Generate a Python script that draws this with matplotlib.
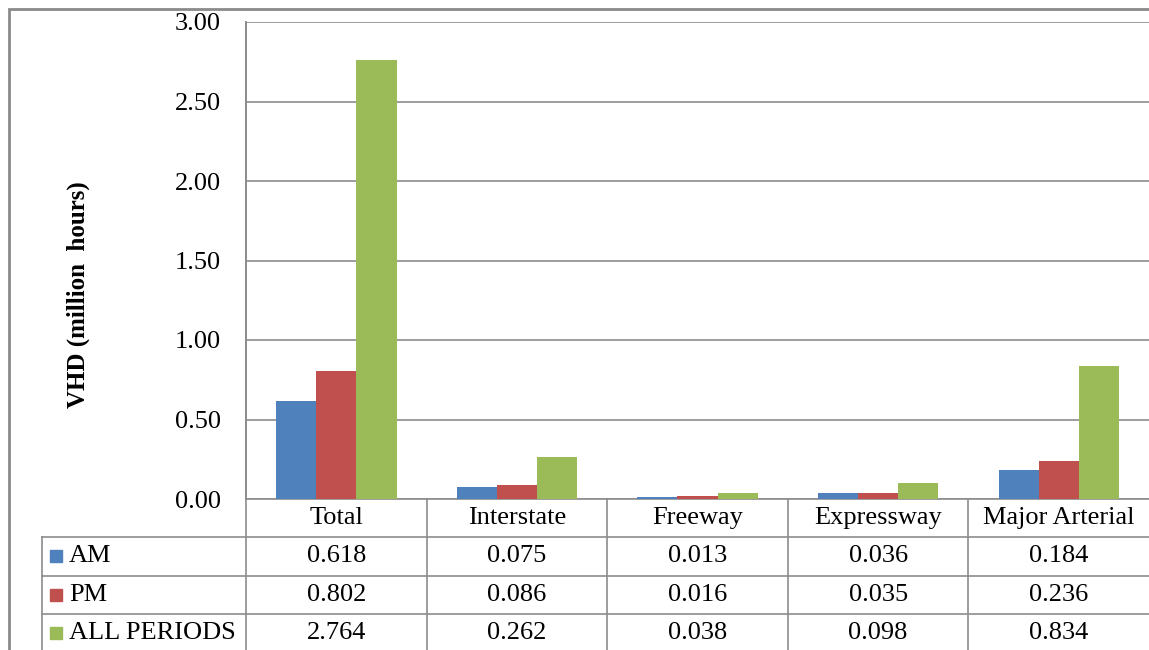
import matplotlib
matplotlib.use("Agg")
import matplotlib.pyplot as plt
import matplotlib.transforms as mtransforms
from matplotlib.lines import Line2D
from matplotlib.patches import Rectangle
import numpy as np

categories = ["Total", "Interstate", "Freeway", "Expressway", "Major Arterial"]
series_names = ["AM", "PM", "ALL PERIODS"]
am = [0.618, 0.075, 0.013, 0.036, 0.184]
pm = [0.802, 0.086, 0.016, 0.035, 0.236]
all_periods = [2.764, 0.262, 0.038, 0.098, 0.834]
colors = ["#4F81BD", "#C0504D", "#9BBB59"]
yticks = [0.0, 0.5, 1.0, 1.5, 2.0, 2.5, 3.0]

plt.rcParams["font.family"] = ["Liberation Serif", "DejaVu Serif"]
FS = 19

W, H = 1149, 650
fig = plt.figure(figsize=(W / 100, H / 100), dpi=100)
ax = fig.add_axes([246 / W, 1 - 499 / H, (1149 - 246) / W, (499 - 22) / H])

grid_col = "#8C8C8C"
series = [am, pm, all_periods]
x = np.arange(len(categories))
bw = 1 / 4.5
for i, (vals, col) in enumerate(zip(series, colors)):
    ax.bar(x + 0.5 + (i - 1) * bw, vals, width=bw, color=col, zorder=3)

ax.set_xlim(0, len(categories))
ax.set_ylim(0, 3.0)
ax.set_yticks(yticks)
ax.set_yticklabels([f"{v:.2f}" for v in yticks], fontsize=FS)
ax.set_xticks([])
ax.tick_params(axis="y", length=0, pad=18)
ax.yaxis.grid(True, color=grid_col, linewidth=1.2, zorder=0)
for s in ["top", "right", "bottom"]:
    ax.spines[s].set_visible(False)
ax.spines["left"].set_color(grid_col)
ax.spines["left"].set_linewidth(1.2)
ax.text(-0.186, 0.428, "VHD (million  hours)", transform=ax.transAxes,
        rotation=90, ha="center", va="center", fontsize=18, fontweight="bold")

# data table under the plot
trans = mtransforms.blended_transform_factory(ax.transData, ax.transAxes)
row_h = 38.3 / 477
left_x = (42 - 246) / (1149 - 246) * len(categories)
n = len(categories)

def hline(x0, x1, y):
    ax.add_line(Line2D([x0, x1], [y, y], transform=trans, color=grid_col,
                       linewidth=1.2, clip_on=False))

def vline(xv, y0, y1):
    ax.add_line(Line2D([xv, xv], [y0, y1], transform=trans, color=grid_col,
                       linewidth=1.2, clip_on=False))

hline(0, n, 0)
for r in range(1, 4):
    hline(left_x, n, -r * row_h)
for c in range(n):
    vline(c, 0, -4.2 * row_h)
vline(left_x, -row_h, -4.2 * row_h)
vline(0, 0, 1)

for c, name in enumerate(categories):
    ax.text(c + 0.5, -0.5 * row_h, name, transform=trans, ha="center",
            va="center", fontsize=FS)

key_w = 12 / (1149 - 246) * n
key_h = 12 / 477
for r, (name, vals, col) in enumerate(zip(series_names, series, colors)):
    yc = -(r + 1.5) * row_h
    ax.add_patch(Rectangle((left_x + 8 / 180.6, yc - key_h / 2), key_w, key_h,
                           transform=trans, color=col, clip_on=False))
    ax.text(left_x + 27 / 180.6, yc, name, transform=trans, ha="left",
            va="center", fontsize=FS)
    for c, v in enumerate(vals):
        ax.text(c + 0.5, yc, f"{v:.3f}", transform=trans, ha="center",
                va="center", fontsize=FS)

# chart area border
fig.add_artist(Rectangle((8.5 / W, -0.1), 1.2, 1 - 8.5 / H + 0.1,
                         transform=fig.transFigure, fill=False,
                         edgecolor="#8A8A8A", linewidth=2))

fig.savefig("out.png", dpi=100)
